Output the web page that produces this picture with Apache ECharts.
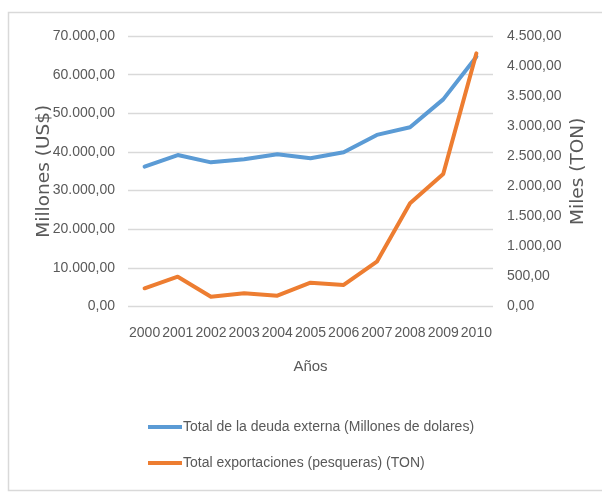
<!DOCTYPE html>
<html><head><meta charset="utf-8">
<script src="https://cdn.jsdelivr.net/npm/echarts@6/dist/echarts.min.js"></script>
<style>html,body{margin:0;padding:0;background:#fff}#c{width:602px;height:493px}</style>
</head><body><div id="c"></div>
<script>
const years = ['2000','2001','2002','2003','2004','2005','2006','2007','2008','2009','2010'];
const deudaExterna = [36200, 39200, 37300, 38100, 39400, 38350, 39900, 44400, 46400, 53600, 64650];
const exportaciones = [303, 496, 163, 219, 180, 396, 358, 745, 1717, 2204, 4212];
const seriesNames = ['Total de la deuda externa (Millones de dolares)', 'Total exportaciones (pesqueras) (TON)'];

function fmt(v){
  const s = Math.round(v).toString().replace(/\B(?=(\d{3})+(?!\d))/g,'.');
  return s + ',00';
}
const font = '"Liberation Sans Narrow", "Liberation Sans", sans-serif';
const txt = '#595959';
const chart = echarts.init(document.getElementById('c'));
chart.setOption({
  animation:false,
  graphic:[{type:'rect',shape:{x:8.5,y:12.5,width:600,height:478},style:{fill:'none',stroke:'#d9d9d9',lineWidth:1.5}}],
  grid:{left:128,right:109,top:36,bottom:186.5,containLabel:false},
  legend:{orient:'vertical',left:143,top:415,itemGap:22,itemWidth:34,itemHeight:4,icon:'rect',
    textStyle:{color:txt,fontFamily:font,fontSize:14,padding:[0,0,0,-4]},data:seriesNames},
  xAxis:{type:'category',data:years,boundaryGap:true,
    name:'Años',nameLocation:'middle',nameGap:53,nameMoveOverlap:false,nameTextStyle:{color:txt,fontFamily:font,fontSize:15},
    axisLine:{show:false},axisTick:{show:false},
    axisLabel:{color:txt,fontFamily:font,fontSize:14,interval:0,margin:20}},
  yAxis:[{type:'value',min:0,max:70000,interval:10000,
    name:'Millones (US$)',nameLocation:'middle',nameGap:74,nameRotate:90,nameMoveOverlap:false,
    nameTextStyle:{color:txt,fontFamily:'"DejaVu Sans", sans-serif',fontSize:18.5},
    axisLine:{show:false},axisTick:{show:false},
    axisLabel:{color:txt,fontFamily:font,fontSize:14,margin:13,formatter:fmt},
    splitLine:{lineStyle:{color:'#d9d9d9',width:1.3}}},
   {type:'value',min:0,max:4500,interval:500,
    name:'Miles (TON)',nameLocation:'middle',nameGap:76,nameRotate:90,nameMoveOverlap:false,
    nameTextStyle:{color:txt,fontFamily:'"DejaVu Sans", sans-serif',fontSize:18.5},
    axisLine:{show:false},axisTick:{show:false},
    axisLabel:{color:txt,fontFamily:font,fontSize:14,margin:14,formatter:fmt},
    splitLine:{show:false}}],
  series:[
    {name:seriesNames[0],type:'line',yAxisIndex:0,data:deudaExterna,symbol:'none',
     lineStyle:{color:'#5b9bd5',width:4,cap:'round',join:'round'},itemStyle:{color:'#5b9bd5'}},
    {name:seriesNames[1],type:'line',yAxisIndex:1,data:exportaciones,symbol:'none',
     lineStyle:{color:'#ed7d31',width:4,cap:'round',join:'round'},itemStyle:{color:'#ed7d31'}}
  ]
});
</script></body></html>
